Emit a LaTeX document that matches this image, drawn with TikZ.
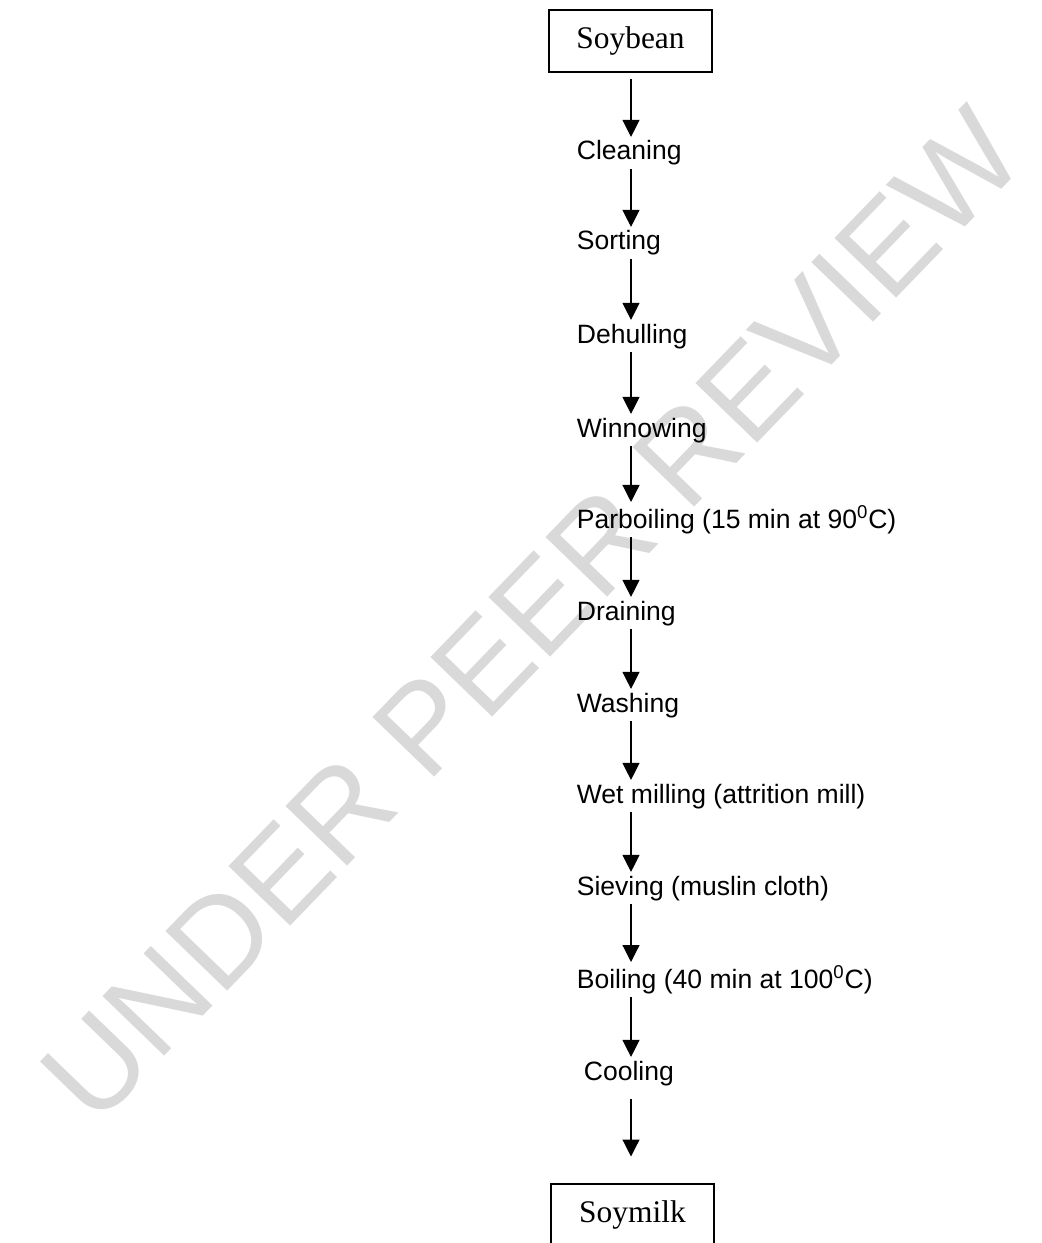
\documentclass[tikz,border=0pt]{standalone}
\usepackage{fontspec}
\setmainfont{Liberation Serif}
\newfontfamily\arial{Liberation Sans}
\usetikzlibrary{arrows.meta}

\begin{document}
\begin{tikzpicture}[x=0.02cm,y=-0.02cm,
  stage/.style={anchor=base west,inner sep=2pt,font=\arial\fontsize{15.1}{18}\selectfont},
  product/.style={draw,line width=0.6pt,minimum width=3.26cm,minimum height=1.24cm,
    inner sep=0pt,font=\fontsize{17.9}{21}\selectfont},
  flow/.style={-{Triangle[width=0.34cm,length=0.34cm]},line width=0.7pt}]
  \useasboundingbox (0,0) rectangle (1041,1243);
  % Watermark
  \node[rotate=46,inner sep=0pt,text=black!15,font=\arial\fontsize{71}{80}\selectfont]
    (mark) at (532,615) {UNDER PEER REVIEW};
  % Arrow column
  \coordinate (axis) at (631,0);
  % Raw material and product
  \node[product] (bean) at (630.5,41) {Soybean};
  \node[product] (milk) at (632.5,1215) {Soymilk};
  % Processing steps
  \node[stage] (clean) at (573,160) {Cleaning};
  \node[stage] (sort)  at (573,250) {Sorting};
  \node[stage] (dehull) at (573,343) {Dehulling};
  \node[stage] (winnow) at (573,437) {Winnowing};
  \node[stage] (parboil) at (573,528) {Parboiling (15 min at 90\textsuperscript{0}C)};
  \node[stage] (drain) at (573,620) {Draining};
  \node[stage] (wash)  at (573,712) {Washing};
  \node[stage] (mill)  at (573,803) {Wet milling (attrition mill)};
  \node[stage] (sieve) at (573,895) {Sieving (muslin cloth)};
  \node[stage] (boil)  at (573,988) {Boiling (40 min at 100\textsuperscript{0}C)};
  \node[stage] (cool)  at (580,1080) {Cooling};
  % Flow arrows
  \draw[flow,shorten <=0.12cm] (bean.south -| axis) -- (clean.north -| axis);
  \foreach \a/\b in {clean/sort,sort/dehull,dehull/winnow,winnow/parboil,parboil/drain,
                     drain/wash,wash/mill,mill/sieve,sieve/boil,boil/cool}
    \draw[flow] (\a.south -| axis) -- (\b.north -| axis);
  \draw[flow,shorten <=0.2cm,shorten >=0.54cm] (cool.south -| axis) -- (milk.north -| axis);
\end{tikzpicture}
\end{document}
